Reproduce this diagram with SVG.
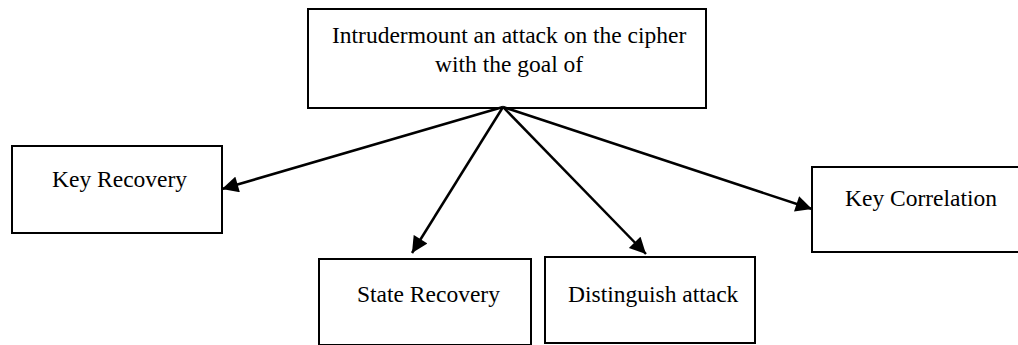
<svg xmlns="http://www.w3.org/2000/svg" width="1018" height="345" viewBox="0 0 1018 345">
<style>
.box{fill:#fff;stroke:#000;stroke-width:2}
.t{font-family:"Liberation Serif","Times New Roman",serif;font-size:23.5px;fill:#000}
.c{stroke:#000;stroke-width:2.5;fill:none;marker-end:url(#ah)}
</style>
<defs>
<marker id="ah" viewBox="0 0 10 10" refX="10" refY="5" markerWidth="7" markerHeight="6.5" markerUnits="strokeWidth" orient="auto">
<path d="M0,0 L10,5 L0,10 z" fill="#000"/>
</marker>
</defs>
<rect width="1018" height="345" fill="#fff"/>
<g id="n-top">
<rect class="box" x="308" y="9" width="398" height="99"/>
<text class="t" x="332" y="43">Intrudermount an attack on the cipher</text>
<text class="t" x="435" y="72">with the goal of</text>
</g>
<g id="n-key-recovery">
<rect class="box" x="12" y="146" width="210" height="87"/>
<text class="t" x="52" y="187">Key Recovery</text>
</g>
<g id="n-state-recovery">
<rect class="box" x="319" y="259" width="212" height="86"/>
<text class="t" x="357" y="302">State Recovery</text>
</g>
<g id="n-distinguish">
<rect class="box" x="545" y="257" width="210" height="86"/>
<text class="t" x="568" y="302">Distinguish attack</text>
</g>
<g id="n-key-correlation">
<rect class="box" x="812" y="167" width="215" height="85"/>
<text class="t" x="845" y="206">Key Correlation</text>
</g>
<g id="connectors">
<line class="c" x1="503" y1="107" x2="222" y2="189"/>
<line class="c" x1="503" y1="107" x2="412" y2="253"/>
<line class="c" x1="503" y1="107" x2="646" y2="254"/>
<line class="c" x1="503" y1="107" x2="812" y2="209"/>
</g>
</svg>
